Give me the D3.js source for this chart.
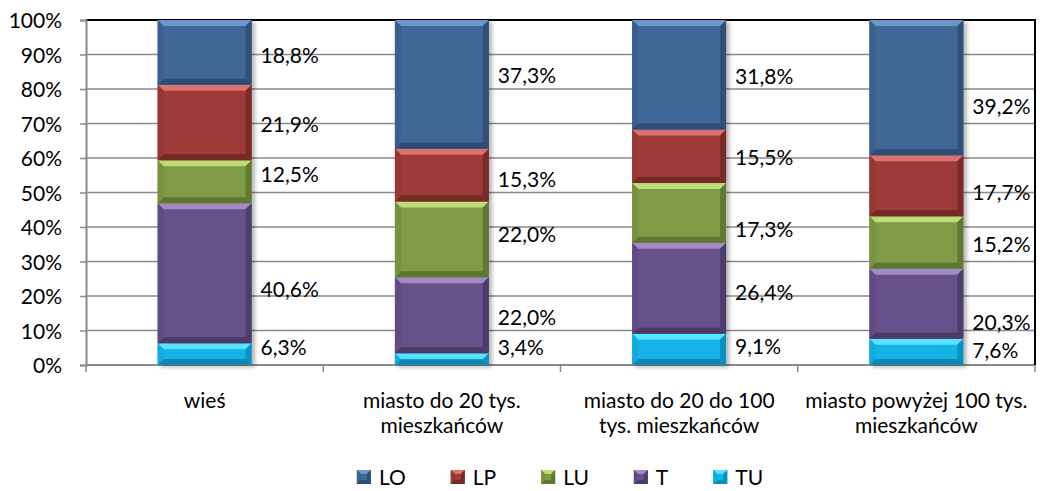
<!DOCTYPE html>
<html>
<head>
<meta charset="utf-8">
<script src="https://cdn.jsdelivr.net/npm/d3@7"></script>
<style>
  body { margin: 0; background: #fff; }
  #container { width: 1040px; height: 491px; }
  text { font-family: Lato, 'Open Sans', sans-serif; fill: #000; }
</style>
</head>
<body>
<div id="container"></div>
<script>

var width = 1040, height = 491;

// data
var categories = ['wieś', 'miasto do 20 tys.|mieszkańców', 'miasto do 20 do 100|tys. mieszkańców', 'miasto powyżej 100 tys.|mieszkańców'];
var seriesNames = ['LO', 'LP', 'LU', 'T', 'TU'];
var LO = [18.8, 37.3, 31.8, 39.2];
var LP = [21.9, 15.3, 15.5, 17.7];
var LU = [12.5, 22.0, 17.3, 15.2];
var T  = [40.6, 22.0, 26.4, 20.3];
var TU = [6.3, 3.4, 9.1, 7.6];
var yTicks = [0, 0.1, 0.2, 0.3, 0.4, 0.5, 0.6, 0.7, 0.8, 0.9, 1];

// label nudges (px), the labels were hand placed in the original
var labelNudge = {
	'LO': [3, -9, 2, 19],
	'LP': [2, 4, 1, 7],
	'LU': [-7, -5, 17, 2],
	'T':  [16, 2, 4, 19],
	'TU': [-7, -12, -3, -1]
};

var colors = {
	'LO': {'body':'#3F6797', 'top':'#6D96CC', 'bot':'#2E4D76', 'side':'#3A6190', 'edge':'#30507A'},
	'LP': {'body':'#9D3B38', 'top':'#DA726F', 'bot':'#762927', 'side':'#953734', 'edge':'#7A2B29'},
	'LU': {'body':'#7F9B44', 'top':'#BEDC78', 'bot':'#5E7432', 'side':'#789240', 'edge':'#627835'},
	'T':  {'body':'#66518A', 'top':'#A38AC6', 'bot':'#493A66', 'side':'#604C83', 'edge':'#4E3E6C'},
	'TU': {'body':'#14B3E6', 'top':'#55E3FF', 'bot':'#0C89B6', 'side':'#13ABDC', 'edge':'#0E90BE'}
};

var rows = categories.map(function(c, i){
	return {'cat':c, 'LO':LO[i], 'LP':LP[i], 'LU':LU[i], 'T':T[i], 'TU':TU[i]};
});

var plotLeft = 86, plotRight = 1035, plotTop = 20, plotBottom = 365;
var fontSize = '21px';

var svg = d3.select('#container')
	.append('svg')
	.attr('width', width)
	.attr('height', height);

var defs = svg.append('defs');
defs.append('clipPath').attr('id','plotclip')
	.append('rect').attr('x', 0).attr('y', 0).attr('width', plotRight).attr('height', height);
var shadow = defs.append('filter').attr('id','shadow')
	.attr('x','-10%').attr('y','-10%').attr('width','130%').attr('height','130%');
shadow.append('feGaussianBlur').attr('in','SourceAlpha').attr('stdDeviation', 2);
shadow.append('feOffset').attr('dx', 3).attr('dy', 2).attr('result','off');
shadow.append('feComponentTransfer').append('feFuncA').attr('type','linear').attr('slope', 0.3);
var merge = shadow.append('feMerge');
merge.append('feMergeNode');
merge.append('feMergeNode').attr('in','SourceGraphic');

var x = d3.scaleBand()
	.domain(categories)
	.range([plotLeft, plotRight])
	.paddingInner(0.604)
	.paddingOuter(0.302);

var xCat = d3.scaleBand()
	.domain(categories)
	.range([plotLeft, plotRight])
	.padding(0);

var y = d3.scaleLinear()
	.domain([0, 1])
	.range([plotBottom, plotTop]);

// gridlines
svg.append('g')
	.selectAll('line')
	.data(yTicks.slice(1))
	.enter()
	.append('line')
	.attr('x1', plotLeft).attr('x2', plotRight)
	.attr('y1', function(d){ return y(d); })
	.attr('y2', function(d){ return y(d); })
	.style('stroke', function(d){ return d == 1 ? '#000' : '#8A8A8A'; })
	.style('stroke-width', function(d){ return d == 1 ? 2 : 1.5; });

// y axis
var yAxis = svg.append('g')
	.attr('transform', 'translate(' + plotLeft + ',0)')
	.call(d3.axisLeft(y).tickValues(yTicks).tickFormat(d3.format('.0%')).tickSize(6).tickPadding(18));
yAxis.select('.domain').style('stroke', '#8A8A8A').style('stroke-width', 2);
yAxis.selectAll('.tick line').style('stroke', '#8A8A8A').style('stroke-width', 1.5);
yAxis.selectAll('.tick text').style('font-size', fontSize).style('font-family', 'Lato').style('fill', '#000').attr('dy', '0.36em');

// x axis
svg.append('line')
	.attr('x1', plotLeft).attr('x2', plotRight)
	.attr('y1', plotBottom).attr('y2', plotBottom)
	.style('stroke', '#8A8A8A').style('stroke-width', 2);
svg.append('g')
	.selectAll('line')
	.data(categories.concat(['end']))
	.enter()
	.append('line')
	.attr('x1', function(d, i){ return i < categories.length ? xCat(d) : plotRight; })
	.attr('x2', function(d, i){ return i < categories.length ? xCat(d) : plotRight; })
	.attr('y1', plotBottom).attr('y2', plotBottom + 7)
	.style('stroke', '#8A8A8A').style('stroke-width', 1.5);

// stacked segments
var stack = d3.stack()
	.keys(['TU', 'T', 'LU', 'LP', 'LO'])
	.offset(d3.stackOffsetExpand);
var layers = stack(rows);

var bars = svg.append('g').attr('filter', 'url(#shadow)');

layers.forEach(function(layer){
	var key = layer.key;
	var c = colors[key];
	layer.forEach(function(d){
		var x0 = x(d.data.cat), w = x.bandwidth();
		var y0 = y(d[1]), h = y(d[0]) - y(d[1]);
		var b = Math.min(6, h / 2);
		var g = bars.append('g');
		g.append('rect')
			.attr('x', x0).attr('y', y0).attr('width', w).attr('height', h)
			.style('fill', c.body);
		// bevel
		g.append('polygon')
			.attr('points', [[x0, y0], [x0 + w, y0], [x0 + w - b, y0 + b], [x0 + b, y0 + b]].join(' '))
			.style('fill', c.top);
		g.append('polygon')
			.attr('points', [[x0, y0 + h], [x0 + w, y0 + h], [x0 + w - b, y0 + h - b], [x0 + b, y0 + h - b]].join(' '))
			.style('fill', c.bot);
		g.append('polygon')
			.attr('points', [[x0, y0], [x0 + b, y0 + b], [x0 + b, y0 + h - b], [x0, y0 + h]].join(' '))
			.style('fill', c.side);
		g.append('polygon')
			.attr('points', [[x0 + w, y0], [x0 + w - b, y0 + b], [x0 + w - b, y0 + h - b], [x0 + w, y0 + h]].join(' '))
			.style('fill', c.edge);
	});
});

// right border
svg.append('line')
	.attr('x1', plotRight).attr('x2', plotRight)
	.attr('y1', plotTop - 1).attr('y2', plotBottom)
	.style('stroke', '#000').style('stroke-width', 2);

// value labels
var labels = svg.append('g').attr('clip-path', 'url(#plotclip)');
layers.forEach(function(layer){
	var key = layer.key;
	var vals = {'LO':LO, 'LP':LP, 'LU':LU, 'T':T, 'TU':TU}[key];
	layer.forEach(function(d, i){
		labels.append('text')
			.attr('x', x(d.data.cat) + x.bandwidth() + 9)
			.attr('y', y((d[0] + d[1]) / 2) + labelNudge[key][i])
			.attr('dy', '0.36em')
			.style('font-size', fontSize)
			.text(d3.format('.1f')(vals[i]).replace('.', ',') + '%');
	});
});

// category labels
var catLabels = svg.append('g')
	.selectAll('text')
	.data(categories)
	.enter()
	.append('text')
	.attr('text-anchor', 'middle')
	.attr('x', function(d){ return xCat(d) + xCat.bandwidth() / 2; })
	.attr('y', 408)
	.style('font-size', fontSize);
catLabels.each(function(d){
	var lines = d.split('|');
	var t = d3.select(this);
	lines.forEach(function(l, j){
		t.append('tspan')
			.attr('x', xCat(d) + xCat.bandwidth() / 2)
			.attr('dy', j == 0 ? 0 : 25)
			.text(l);
	});
});

// legend
var legend = svg.append('g');
var lx = 0;
seriesNames.forEach(function(s){
	var c = colors[s];
	var item = legend.append('g').attr('transform', 'translate(' + lx + ',0)');
	item.append('rect').attr('x', 0).attr('y', 470).attr('width', 14).attr('height', 14).style('fill', c.body);
	item.append('polygon').attr('points', '0,470 14,470 10,474 4,474').style('fill', c.top);
	item.append('polygon').attr('points', '0,484 14,484 10,480 4,480').style('fill', c.bot);
	item.append('polygon').attr('points', '14,470 14,484 10,480 10,474').style('fill', c.edge);
	item.append('polygon').attr('points', '0,470 0,484 4,480 4,474').style('fill', c.side);
	var tx = item.append('text').attr('x', 22).attr('y', 485).style('font-size', fontSize).text(s);
	lx += 22 + tx.node().getComputedTextLength() + 45;
});
var legendW = lx - 45;
legend.attr('transform', 'translate(' + (560 - legendW / 2) + ',0)');

</script>
</body>
</html>
